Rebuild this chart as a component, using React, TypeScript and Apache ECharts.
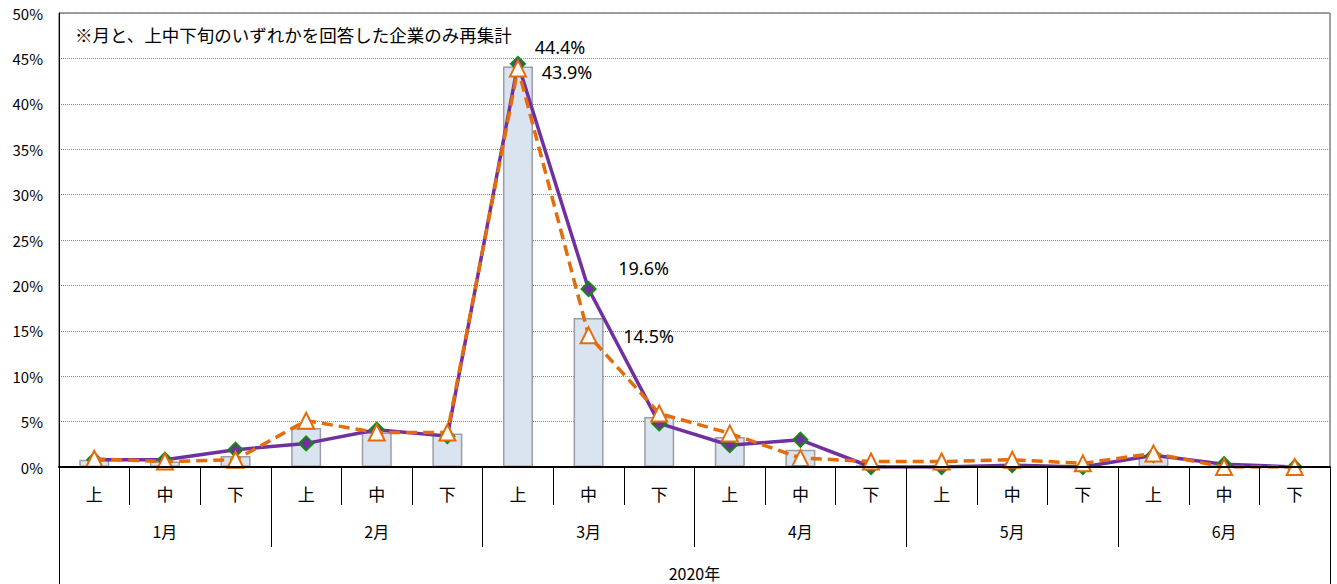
import React, { useEffect, useRef } from "react";
import * as echarts from "echarts";

const decades = ["上", "中", "下", "上", "中", "下", "上", "中", "下", "上", "中", "下", "上", "中", "下", "上", "中", "下"];
const months = ["1月", "2月", "3月", "4月", "5月", "6月"];
const yearLabel = ["2020年"];
const yTicks = [0, 5, 10, 15, 20, 25, 30, 35, 40, 45, 50];

const barValues = [0.8, 0.6, 1.2, 4.3, 3.8, 3.7, 44.1, 16.4, 5.5, 3.3, 1.9, 0.2, 0.1, 0.2, 0.1, 1.3, 0.2, 0.0];
const purpleValues = [0.8, 0.8, 1.9, 2.6, 4.1, 3.4, 44.4, 19.6, 4.8, 2.4, 3.0, 0.0, 0.0, 0.2, 0.0, 1.3, 0.3, 0.0];
const orangeValues = [0.9, 0.6, 0.8, 5.1, 3.8, 3.8, 43.9, 14.5, 5.9, 3.7, 1.0, 0.6, 0.6, 0.8, 0.4, 1.5, 0.0, 0.0];

const purpleLabelIdx: Record<number, number[]> = { 6: [42, -17], 7: [55, -21] };
const orangeLabelIdx: Record<number, number[]> = { 6: [49, 4], 7: [60, 1] };

const annotation = "※月と、上中下旬のいずれかを回答した企業のみ再集計";

const FONT = "'Noto Sans CJK JP', 'Noto Sans', sans-serif";
const NUMFONT = "'Noto Sans', 'Liberation Sans', sans-serif";

function withLabels(values: number[], labelMap: Record<number, number[]>) {
  return values.map((v, i) => {
    const off = labelMap[i];
    if (!off) return v;
    return {
      value: v,
      label: {
        show: true,
        position: "inside",
        offset: off,
        formatter: (p: any) => p.value.toFixed(1) + "%",
        fontSize: 18,
        fontFamily: NUMFONT,
        color: "#000",
      },
    };
  });
}

export default function App() {
  const ref = useRef<HTMLDivElement>(null);
  useEffect(() => {
    if (!ref.current) return;
    const chart = echarts.init(ref.current, undefined, { renderer: "svg" });
    chart.setOption({
      animation: false,
      backgroundColor: "#ffffff",
      textStyle: { fontFamily: FONT },
      grid: {
        left: 59,
        right: 7,
        top: 13,
        bottom: 117,
        show: true,
        borderColor: "#404040",
        borderWidth: 1,
        backgroundColor: "transparent",
      },
      graphic: [
        {
          type: "text",
          left: 75,
          top: 26,
          style: { text: annotation, fontSize: 17.5, fontFamily: FONT, fill: "#000" },
        },
      ],
      xAxis: [
        {
          type: "category",
          data: decades,
          position: "bottom",
          axisLine: { show: true, lineStyle: { color: "#000", width: 2 } },
          axisTick: { show: true, interval: 0, length: 38, lineStyle: { color: "#000", width: 1 } },
          axisLabel: { interval: 0, margin: 18, fontSize: 17, color: "#000", fontFamily: FONT },
          splitLine: { show: false },
          z: 5,
        },
        {
          type: "category",
          data: months,
          position: "bottom",
          axisLine: { show: false },
          axisTick: { show: true, interval: 0, length: 80, lineStyle: { color: "#000", width: 1 } },
          axisLabel: { interval: 0, margin: 56, fontSize: 16, color: "#000", fontFamily: FONT },
          splitLine: { show: false },
        },
        {
          type: "category",
          data: yearLabel,
          position: "bottom",
          axisLine: { show: false },
          axisTick: { show: true, interval: 0, length: 117, lineStyle: { color: "#000", width: 1 } },
          axisLabel: { interval: 0, margin: 98, fontSize: 16, color: "#000", fontFamily: FONT },
          splitLine: { show: false },
        },
      ],
      yAxis: {
        type: "value",
        min: yTicks[0],
        max: yTicks[yTicks.length - 1],
        interval: 5,
        axisLine: { show: true, lineStyle: { color: "#000", width: 1 } },
        axisTick: { show: false },
        axisLabel: {
          formatter: "{value}%",
          fontSize: 15,
          margin: 16,
          color: "#000",
          fontFamily: FONT,
        },
        splitLine: { show: true, lineStyle: { color: "#888", type: "dotted", width: 1 } },
      },
      series: [
        {
          type: "bar",
          data: barValues,
          barWidth: 30,
          itemStyle: { color: "#dae3f0", borderColor: "#9a9ea4", borderWidth: 1.5 },
          z: 1,
        },
        {
          type: "line",
          data: withLabels(purpleValues, purpleLabelIdx),
          lineStyle: { color: "#7030a0", width: 3.5 },
          symbol: "diamond",
          symbolSize: 14,
          itemStyle: { color: "#7030a0", borderColor: "#138a13", borderWidth: 2 },
          z: 3,
        },
        {
          type: "line",
          data: withLabels(orangeValues, orangeLabelIdx),
          lineStyle: { color: "#e46c0a", width: 3.5, type: [11, 6] },
          symbol: "triangle",
          symbolSize: 16,
          itemStyle: { color: "#ffffff", borderColor: "#e46c0a", borderWidth: 2 },
          z: 4,
        },
      ],
    });
    return () => chart.dispose();
  }, []);
  return (
    <div
      ref={ref}
      style={{ position: "absolute", left: 0, top: 0, width: 1337, height: 584 }}
    />
  );
}
